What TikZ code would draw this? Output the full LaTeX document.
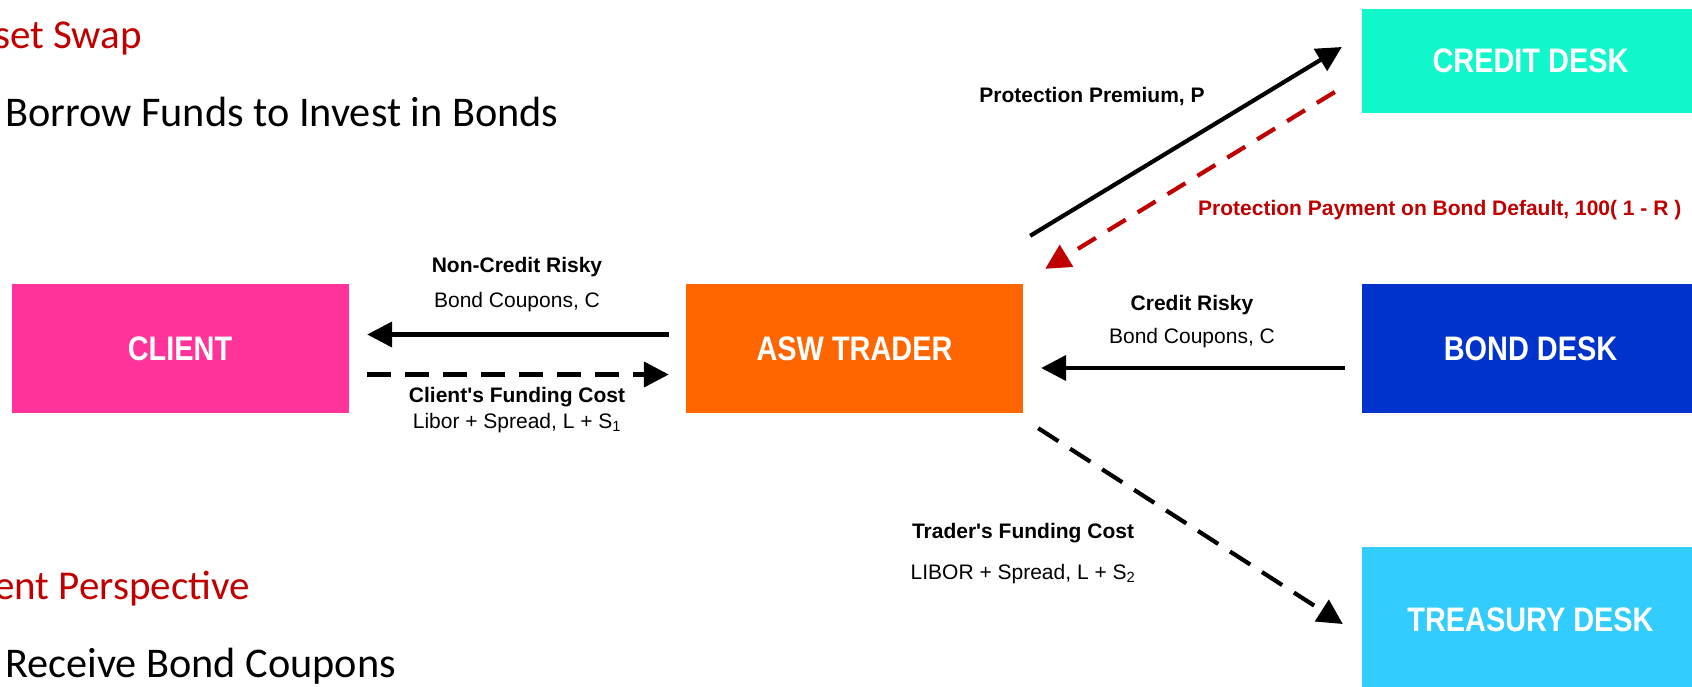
\documentclass[tikz,border=0pt]{standalone}
\usepackage{fontspec}
\setmainfont{Liberation Sans}
\newfontfamily\narrow[FakeStretch=0.85]{Liberation Sans}
\newfontfamily\slidefont{Carlito}
\usetikzlibrary{arrows.meta,calc}
\definecolor{clientpink}{HTML}{FF3399}
\definecolor{asworange}{HTML}{FF6600}
\definecolor{bondblue}{HTML}{0033CC}
\definecolor{creditturq}{HTML}{11F7CC}
\definecolor{treasblue}{HTML}{33CCFF}
\definecolor{slidered}{HTML}{C00000}
\definecolor{arrowred}{HTML}{C00000}
\begin{document}
\begin{tikzpicture}[x=1pt,y=-1pt,
  box/.style={rectangle, inner sep=0pt, minimum width=337pt, minimum height=129pt,
    text=white, font=\narrow\bfseries\fontsize{34}{36}\selectfont},
  lblb/.style={inner sep=0pt, font=\bfseries\fontsize{21}{24}\selectfont},
  lbl/.style={inner sep=0pt, font=\fontsize{21}{24}\selectfont},
  slidetitle/.style={inner sep=0pt, anchor=base west, text=slidered, font=\slidefont\fontsize{41}{48}\selectfont},
  slidetext/.style={inner sep=0pt, anchor=base west, font=\slidefont\fontsize{42.3}{50}\selectfont},
  arr/.style={line width=4.2pt, -{Triangle[length=25pt,width=25pt]}},
  darr/.style={arr, dash pattern=on 24pt off 14pt},
  rarr/.style={line width=4.2pt, draw=arrowred, dash pattern=on 21pt off 14pt, -{Triangle[length=25pt,width=25pt]}},
]
\useasboundingbox (0,0) rectangle (1692,686);

% slide text
\node[slidetitle] (t1) at (-6,48) {set Swap};
\node[slidetext] (t2) at (5,126) {Borrow Funds to Invest in Bonds};
\node[slidetitle] (t3) at (-6,599) {ent Perspective};
\node[slidetext] (t4) at (5,677) {Receive Bond Coupons};

% boxes
\node[box, fill=clientpink] (client) at (180,348.5) {CLIENT};
\node[box, fill=asworange] (asw) at (854.5,348.5) {ASW TRADER};
\node[box, fill=bondblue] (bond) at (1530.5,348.5) {BOND DESK};
\node[box, fill=creditturq, minimum height=104.5pt] (credit) at (1530.5,61) {CREDIT DESK};
\node[box, fill=treasblue, minimum height=146pt] (treasury) at (1530.5,620) {TREASURY DESK};

% labels
\node[lblb] (l1) at (517,267) {Non-Credit Risky};
\node[lbl] (l2) at (517,302) {Bond Coupons, C};
\node[lblb] (l3) at (517,397) {Client\textquotesingle s Funding Cost};
\node[lbl] (l4) at (517,423) {Libor + Spread, L + S\textsubscript{1}};
\node[lblb] (l5) at (1192,305) {Credit Risky};
\node[lbl] (l6) at (1192,338) {Bond Coupons, C};
\node[lblb] (l7) at (1092,97) {Protection Premium, P};
\node[lblb, text=arrowred, anchor=west] (l8) at (1198,210) {Protection Payment on Bond Default, 100( 1 - R )};
\node[lblb] (l9) at (1023,533) {Trader\textquotesingle s Funding Cost};
\node[lbl] (l10) at (1023,574) {LIBOR + Spread, L + S\textsubscript{2}};

% connectors
\draw[arr] ($(asw.west)+(-17,-14)$) -- ($(client.east)+(18.5,-14)$);
\draw[darr] ($(client.east)+(18.5,26)$) -- ($(asw.west)+(-17,26)$);
\draw[arr] ($(bond.west)+(-16.5,19.5)$) -- ($(asw.east)+(18,19.5)$);
\draw[darr] ($(asw.south east)+(15,15)$) -- ($(treasury.west)+(-19,4)$);
\draw[arr] ($(asw.north east)+(7,-48)$) -- ($(credit.west)+(-20,-14)$);
\draw[rarr] ($(credit.west)+(-27,31)$) -- ($(asw.north east)+(22,-15)$);
\end{tikzpicture}
\end{document}
